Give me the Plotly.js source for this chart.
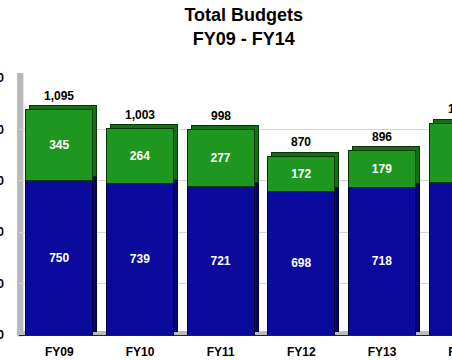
<!DOCTYPE html>
<html>
<head>
<meta charset="utf-8">
<script src="https://cdn.plot.ly/plotly-3.0.1.min.js"></script>
<style>
  html, body { margin: 0; padding: 0; overflow: hidden; background: #fff; width: 452px; height: 360px; }
  #chart { position: absolute; left: -30px; top: 0; width: 540px; height: 360px; }
</style>
</head>
<body>
<div id="chart"></div>
<script>
const categories = ['FY09', 'FY10', 'FY11', 'FY12', 'FY13', 'FY14'];
const baseBudget = [750, 739, 721, 698, 718, 741];
const addedBudget = [345, 264, 277, 172, 179, 288];
const totals = [1095, 1003, 998, 870, 896, 1029];
const yTicks = [0, 250, 500, 750, 1000, 1250];

const blue = '#0a0a9c', blueDark = '#05056c';
const green = '#1f961f', greenDark = '#146e14';
const fam = 'Liberation Sans, Arial, sans-serif';

const fmt = v => v.toLocaleString('en-US');

// 3D depth: shadow bars on a shifted overlay axis
const dxCat = 0.05, dyVal = 19.4;

const traces = [
  // anchor trace so the base subplot (grid, tick labels) exists
  { type: 'scatter', x: categories, y: categories.map(() => null), xaxis: 'x', yaxis: 'y',
    mode: 'markers', hoverinfo: 'skip', showlegend: false },
  { type: 'bar', x: categories, y: baseBudget, xaxis: 'x2', yaxis: 'y2',
    marker: { color: blueDark, line: { color: '#000033', width: 1 } }, hoverinfo: 'skip', showlegend: false },
  { type: 'bar', x: categories, y: addedBudget, xaxis: 'x2', yaxis: 'y2',
    marker: { color: greenDark, line: { color: '#063806', width: 1 } }, hoverinfo: 'skip', showlegend: false },
  { type: 'bar', name: 'Base', x: categories, y: baseBudget, xaxis: 'x3', yaxis: 'y3',
    text: baseBudget.map(fmt), textposition: 'inside', insidetextanchor: 'middle',
    textfont: { color: '#ffffff', size: 12, family: fam, weight: 'bold' },
    marker: { color: blue, line: { color: '#000033', width: 1 } }, showlegend: false },
  { type: 'bar', name: 'Added', x: categories, y: addedBudget, xaxis: 'x3', yaxis: 'y3',
    text: addedBudget.map(fmt), textposition: 'inside', insidetextanchor: 'middle',
    textfont: { color: '#ffffff', size: 12, family: fam, weight: 'bold' },
    marker: { color: green, line: { color: '#063806', width: 1 } }, showlegend: false }
];

const catAxis = { type: 'category', categoryarray: categories };

const layout = {
  width: 540, height: 360,
  margin: { l: 49, r: 7, t: 78, b: 24.5 },
  paper_bgcolor: '#ffffff', plot_bgcolor: '#ffffff',
  barmode: 'stack', bargap: 0.17,
  showlegend: false,
  font: { family: fam, color: '#000000' },
  title: {
    text: 'Total Budgets<br>FY09 - FY14',
    font: { size: 18, family: fam, weight: 'bold', color: '#000000' },
    xref: 'container', x: 0.507, xanchor: 'center',
    yref: 'container', y: 0.941, yanchor: 'top'
  },
  xaxis: Object.assign({}, catAxis, {
    range: [-0.5, 5.5], showgrid: false, zeroline: false,
    showline: true, linecolor: '#222222', linewidth: 1,
    ticks: '', ticklabelstandoff: 6,
    tickfont: { size: 12, family: fam, weight: 'bold', color: '#000000' }
  }),
  yaxis: {
    range: [0, 1250], tickvals: yTicks, ticktext: yTicks.map(fmt),
    showgrid: true, gridcolor: '#d4d4d4', gridwidth: 1, zeroline: false,
    ticks: '', ticklabelstandoff: 14,
    tickfont: { size: 12, family: fam, weight: 'bold', color: '#000000' }
  },
  xaxis2: Object.assign({}, catAxis, { overlaying: 'x', anchor: 'y2', range: [-0.5 - dxCat, 5.5 - dxCat], visible: false }),
  yaxis2: { overlaying: 'y', anchor: 'x2', range: [-dyVal, 1250 - dyVal], visible: false },
  xaxis3: Object.assign({}, catAxis, { overlaying: 'x', anchor: 'y3', range: [-0.5, 5.5], visible: false }),
  yaxis3: { overlaying: 'y', anchor: 'x3', range: [0, 1250], visible: false },
  annotations: categories.map((c, i) => ({
    x: c, y: totals[i], xref: 'x3', yref: 'y3',
    text: fmt(totals[i]), showarrow: false, yanchor: 'bottom', yshift: 5,
    font: { size: 12, family: fam, color: '#000000', weight: 'bold' }
  })),
  shapes: [
    { type: 'rect', xref: 'paper', yref: 'paper', x0: -0.004, x1: 0.009, y0: -0.005, y1: 1.019,
      fillcolor: '#b8b8b8', line: { width: 0 }, layer: 'below' },
    { type: 'rect', xref: 'paper', yref: 'paper', x0: 0, x1: 1, y0: 0, y1: 0.016,
      fillcolor: '#bcbcbc', line: { width: 0 }, layer: 'below' }
  ]
};

Plotly.newPlot('chart', traces, layout, { staticPlot: true, displayModeBar: false });
</script>
</body>
</html>
